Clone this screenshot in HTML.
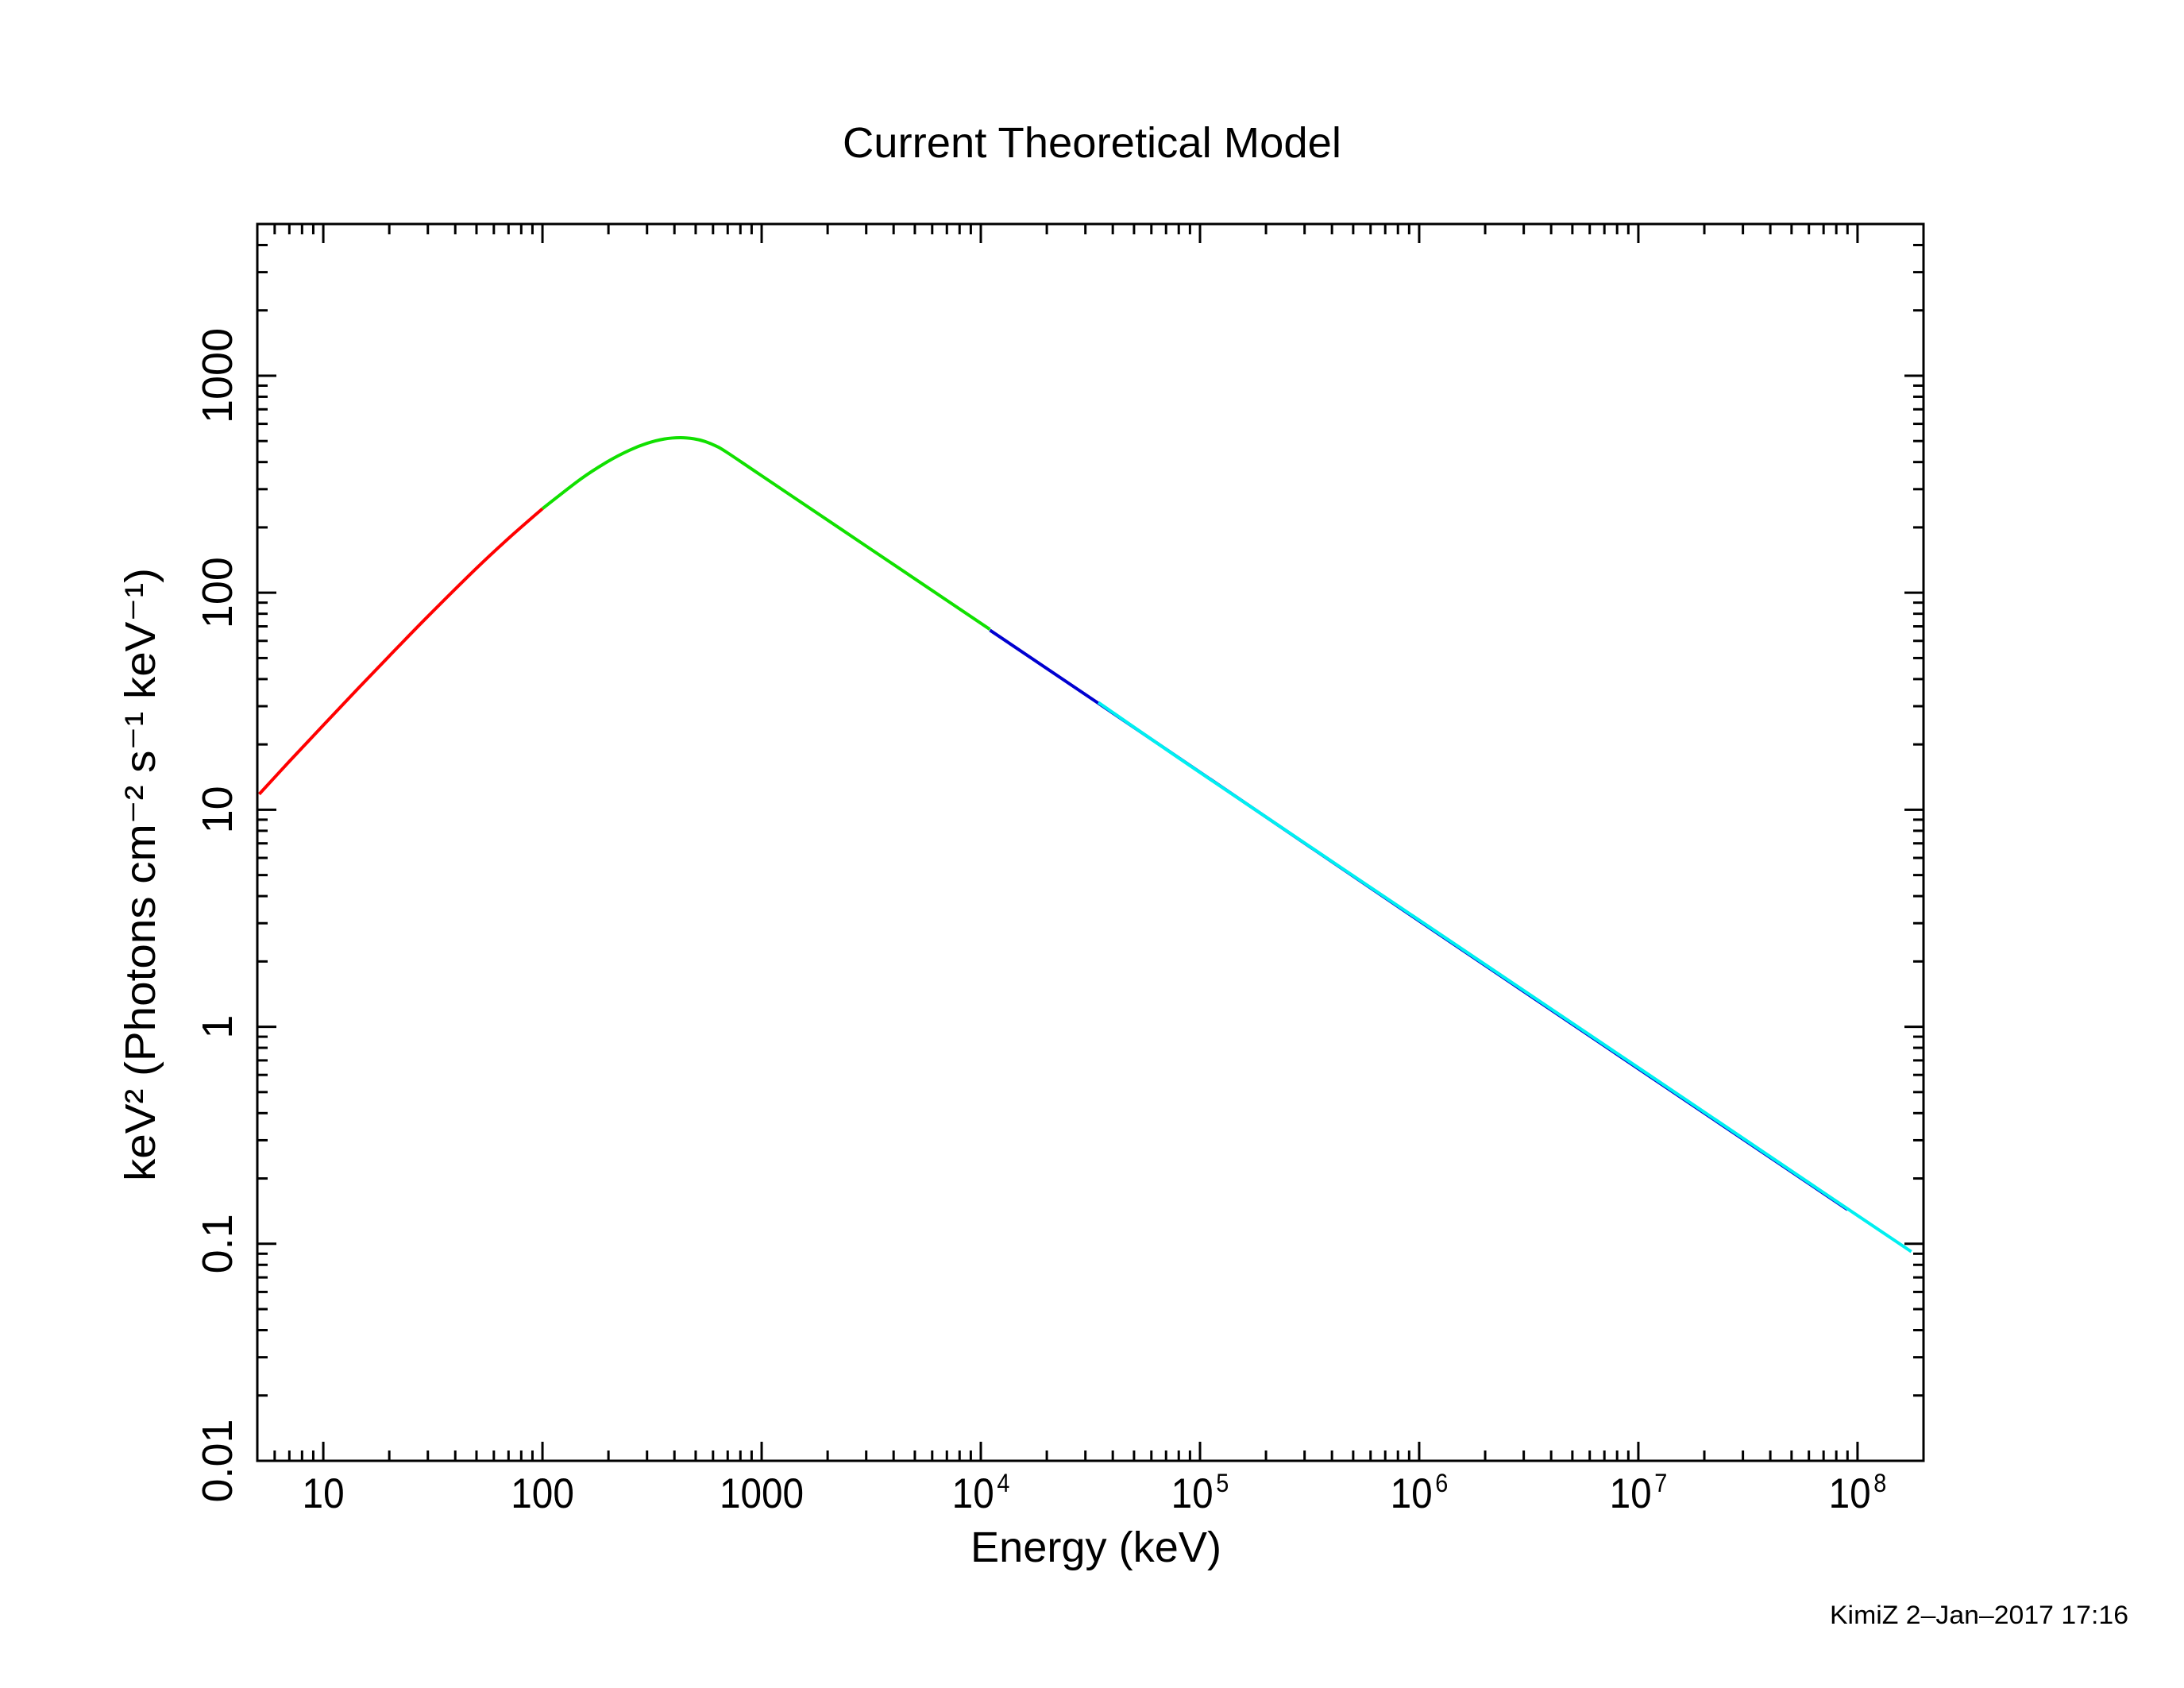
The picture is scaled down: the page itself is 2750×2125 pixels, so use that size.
<!DOCTYPE html>
<html><head><meta charset="utf-8"><style>
html,body{margin:0;padding:0;background:#fff;}
svg{display:block;}
text{font-family:"Liberation Sans",sans-serif;fill:#000;}
</style></head><body>
<svg id="chart" width="2750" height="2125" viewBox="0 0 2750 2125" xmlns="http://www.w3.org/2000/svg">
<rect width="2750" height="2125" fill="#fff"/>
<text x="1375" y="198" font-size="54" text-anchor="middle" textLength="628" lengthAdjust="spacingAndGlyphs">Current Theoretical Model</text>
<g id="ticks"></g>
<g id="curves"></g>
<rect x="324" y="282" width="2098" height="1557" fill="none" stroke="#000" stroke-width="3"/>
<g id="labels"></g>
<text x="1380" y="1966" font-size="54" text-anchor="middle" textLength="316" lengthAdjust="spacingAndGlyphs">Energy (keV)</text>
<text transform="translate(195,1101) rotate(-90)" font-size="54" text-anchor="middle" textLength="772" lengthAdjust="spacingAndGlyphs">keV² (Photons cm⁻² s⁻¹ keV⁻¹)</text>
<text x="2304" y="2044" font-size="32" textLength="376" lengthAdjust="spacingAndGlyphs">KimiZ  2–Jan–2017 17:16</text>
</svg>
<script>
// Data
const redEnergy = [5.1, 7, 10, 14, 20, 30, 50, 70, 100];
const redFlux   = [11.8, 16.7, 24.5, 35.1, 51.1, 77.8, 129.7, 178, 244];
const greenEnergy = [100, 150, 200, 250, 300, 360, 426, 490, 550, 620, 689, 1000, 3000, 11000];
const greenFlux   = [244, 335, 404, 454, 488, 511, 518, 512, 498, 474, 445.6, 346, 164, 67.8];
const blueEnergy = [11000, 34400, 1e6, 9e7];
const blueFlux   = [67.8, 31.2, 3.10, 0.145];
const cyanEnergy = [34400, 1e5, 1e6, 1e7, 1e8, 1.76e8];
const cyanFlux   = [31.2, 14.85, 3.10, 0.648, 0.135, 0.092];
const xTickExps = [1, 2, 3, 4, 5, 6, 7, 8];
const xTickLabels = ["10", "100", "1000", "10^4", "10^5", "10^6", "10^7", "10^8"];
const yTickExps = [-2, -1, 0, 1, 2, 3];
const yTickLabels = ["0.01", "0.1", "1", "10", "100", "1000"];

const L=324, R=2422, T=282, B=1839;
const xMinL=Math.log10(5.0), xMaxL=Math.log10(2e8);
const yMinL=-2, yMaxL=Math.log10(5000);
const NS="http://www.w3.org/2000/svg";
function xs(v){return L+(Math.log10(v)-xMinL)/(xMaxL-xMinL)*(R-L);}
function ys(v){return B-(Math.log10(v)-yMinL)/(yMaxL-yMinL)*(B-T);}

const ticks=document.getElementById('ticks');
function line(x1,y1,x2,y2,name){
  const l=document.createElementNS(NS,'line');
  l.setAttribute('x1',x1);l.setAttribute('y1',y1);l.setAttribute('x2',x2);l.setAttribute('y2',y2);
  l.setAttribute('stroke','#000');l.setAttribute('stroke-width','3');
  
  
  ticks.appendChild(l);
}
for(let e=0;e<=8;e++){
  for(let m=1;m<=9;m++){
    const v=m*Math.pow(10,e);
    if(v<5||v>2e8)continue;
    const x=xs(v), len=m===1?24:13;
    line(x,B,x,B-len,'x-tick');
    line(x,T,x,T+len,'x-tick-top');
  }
}
for(let e=-2;e<=3;e++){
  for(let m=1;m<=9;m++){
    const v=m*Math.pow(10,e);
    if(v>5000)continue;
    const y=ys(v), len=m===1?24:13;
    line(L,y,L+len,y,'y-tick');
    line(R,y,R-len,y,'y-tick-right');
  }
}
const labels=document.getElementById('labels');
xTickExps.forEach((e,i)=>{
  const x=xs(Math.pow(10,e));
  const t=document.createElementNS(NS,'text');
  t.setAttribute('font-size','53');
  t.setAttribute('text-anchor','middle');
  
  
  t.setAttribute('transform','translate('+x+',1898) scale(0.9,1)');
  const lab=xTickLabels[i];
  if(lab.indexOf('^')>=0){
    const parts=lab.split('^');
    const a=document.createElementNS(NS,'tspan');a.textContent=parts[0];
    const b=document.createElementNS(NS,'tspan');b.textContent=parts[1];
    b.setAttribute('font-size','32');b.setAttribute('dy','-20');b.setAttribute('dx','4');
    t.appendChild(a);t.appendChild(b);
  } else {
    t.textContent=lab;
  }
  labels.appendChild(t);
});
yTickExps.forEach((e,i)=>{
  const y=ys(Math.pow(10,e));
  const t=document.createElementNS(NS,'text');
  t.setAttribute('font-size','54');
  t.setAttribute('text-anchor','middle');
  t.setAttribute('transform','translate(292,'+y+') rotate(-90)');
  
  
  t.textContent=yTickLabels[i];
  labels.appendChild(t);
});
const curves=document.getElementById('curves');
function pathFrom(E,F,dy){
  const p=E.map((e,i)=>[xs(e),ys(F[i])+dy]);
  let d='M'+p[0][0]+','+p[0][1];
  for(let i=0;i<p.length-1;i++){
    const p0=p[i-1]||p[i], p1=p[i], p2=p[i+1], p3=p[i+2]||p[i+1];
    const c1=[p1[0]+(p2[0]-p0[0])/6, p1[1]+(p2[1]-p0[1])/6];
    const c2=[p2[0]-(p3[0]-p1[0])/6, p2[1]-(p3[1]-p1[1])/6];
    d+=' C'+c1[0]+','+c1[1]+' '+c2[0]+','+c2[1]+' '+p2[0]+','+p2[1];
  }
  return d;
}
function addCurve(E,F,color,name,dy){
  const path=document.createElementNS(NS,'path');
  path.setAttribute('d',pathFrom(E,F,dy||0));
  path.setAttribute('fill','none');
  path.setAttribute('stroke',color);
  path.setAttribute('stroke-width','4');
  
  
  curves.appendChild(path);
}
addCurve(redEnergy,redFlux,'#ff0000','curve-red');
addCurve(greenEnergy,greenFlux,'#11e000','curve-green');
addCurve(blueEnergy,blueFlux,'#0000d0','curve-blue',1);
addCurve(cyanEnergy,cyanFlux,'#00f0f0','curve-cyan');
</script>
</body></html>
